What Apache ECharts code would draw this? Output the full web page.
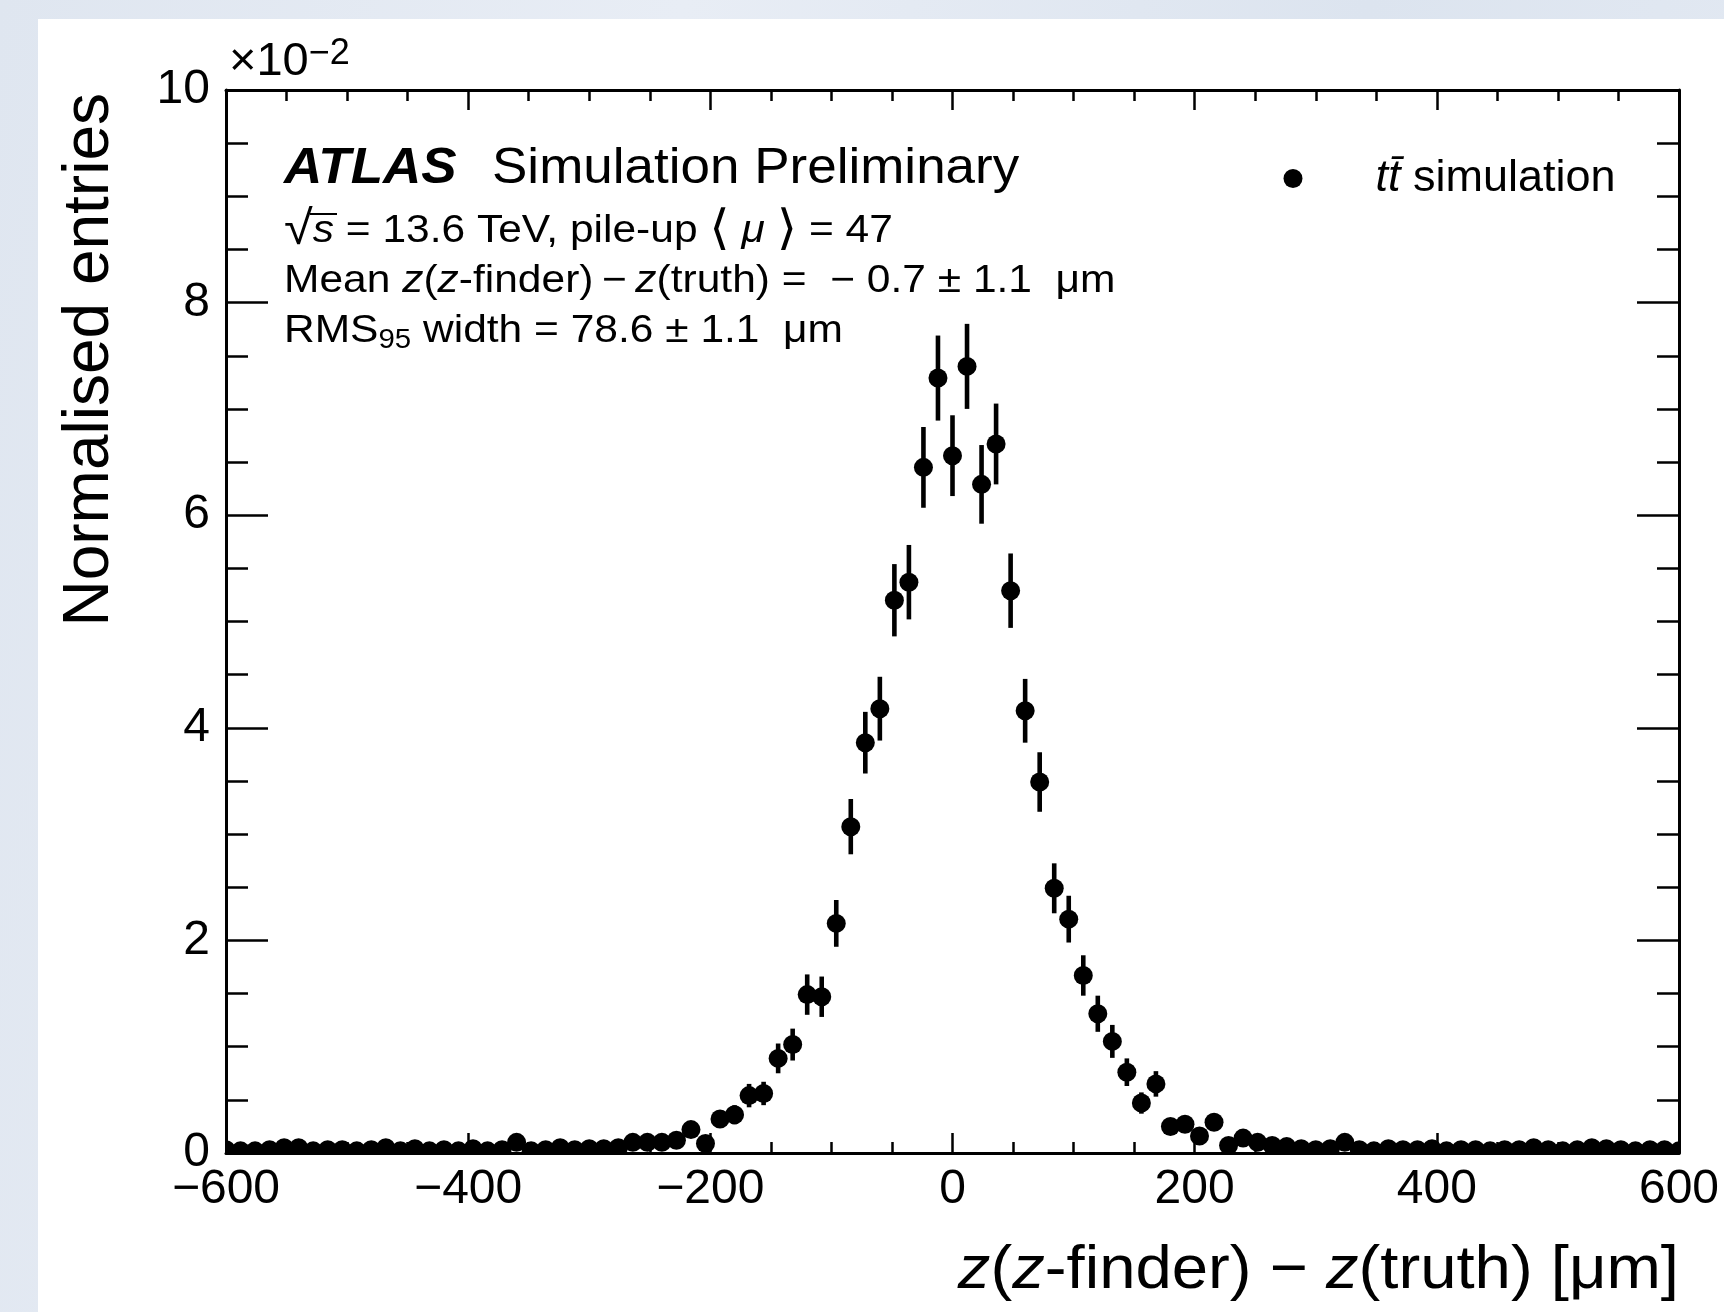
<!DOCTYPE html>
<html>
<head>
<meta charset="utf-8">
<script src="https://cdn.jsdelivr.net/npm/echarts@6/dist/echarts.min.js"></script>
<style>
  html, body { margin: 0; padding: 0; }
  body {
    width: 1724px; height: 1312px; position: relative; overflow: hidden;
    background: linear-gradient(100deg, #dfe6f0 0%, #e8edf5 35%, #dce4ef 70%, #e4eaf3 100%);
  }
  #panel { position: absolute; left: 38px; top: 19px; width: 1686px; height: 1293px; background: #fff; }
  #chart { position: absolute; left: 0; top: 0; width: 1724px; height: 1312px; }
</style>
</head>
<body>
<div id="panel"></div>
<div id="chart"></div>
<script>
// bin centres [um]
const binCenters = [
  -600, -588, -576, -564, -552, -540, -528, -516, -504, -492,
  -480, -468, -456, -444, -432, -420, -408, -396, -384, -372,
  -360, -348, -336, -324, -312, -300, -288, -276, -264, -252,
  -240, -228, -216, -204, -192, -180, -168, -156, -144, -132,
  -120, -108, -96, -84, -72, -60, -48, -36, -24, -12,
  0, 12, 24, 36, 48, 60, 72, 84, 96, 108,
  120, 132, 144, 156, 168, 180, 192, 204, 216, 228,
  240, 252, 264, 276, 288, 300, 312, 324, 336, 348,
  360, 372, 384, 396, 408, 420, 432, 444, 456, 468,
  480, 492, 504, 516, 528, 540, 552, 564, 576, 588, 600
];

// normalised entries, in units of 1e-2
const entries = [
  0.03, 0.02, 0.02, 0.03, 0.05, 0.05, 0.02, 0.03, 0.03, 0.02,
  0.03, 0.05, 0.02, 0.04, 0.02, 0.03, 0.02, 0.04, 0.02, 0.03,
  0.10, 0.02, 0.03, 0.05, 0.03, 0.04, 0.04, 0.05, 0.10, 0.10,
  0.10, 0.12, 0.22, 0.09, 0.32, 0.36, 0.54, 0.56, 0.89, 1.02,
  1.49, 1.47, 2.16, 3.07, 3.86, 4.18, 5.20, 5.37, 6.45, 7.29,
  6.56, 7.40, 6.29, 6.67, 5.29, 4.16, 3.49, 2.49, 2.20, 1.67,
  1.31, 1.05, 0.76, 0.47, 0.65, 0.25, 0.27, 0.16, 0.29, 0.07,
  0.14, 0.10, 0.07, 0.06, 0.04, 0.03, 0.04, 0.10, 0.03, 0.02,
  0.04, 0.03, 0.03, 0.04, 0.02, 0.03, 0.03, 0.02, 0.03, 0.03,
  0.05, 0.03, 0.02, 0.03, 0.05, 0.04, 0.03, 0.02, 0.03, 0.03, 0.02
];

// statistical uncertainty, same units
const errors = [
  0.02, 0.02, 0.02, 0.02, 0.03, 0.03, 0.02, 0.02, 0.02, 0.02,
  0.02, 0.03, 0.02, 0.03, 0.02, 0.02, 0.02, 0.03, 0.02, 0.02,
  0.05, 0.02, 0.02, 0.03, 0.02, 0.03, 0.03, 0.03, 0.05, 0.05,
  0.05, 0.05, 0.07, 0.04, 0.08, 0.09, 0.11, 0.11, 0.14, 0.15,
  0.19, 0.19, 0.22, 0.26, 0.29, 0.30, 0.34, 0.35, 0.38, 0.40,
  0.38, 0.40, 0.37, 0.38, 0.35, 0.30, 0.28, 0.235, 0.22, 0.19,
  0.17, 0.155, 0.13, 0.10, 0.12, 0.07, 0.08, 0.06, 0.08, 0.04,
  0.05, 0.05, 0.04, 0.04, 0.03, 0.02, 0.03, 0.05, 0.02, 0.02,
  0.03, 0.02, 0.02, 0.03, 0.02, 0.02, 0.02, 0.02, 0.02, 0.02,
  0.03, 0.02, 0.02, 0.02, 0.03, 0.03, 0.02, 0.02, 0.02, 0.02, 0.02
];

const seriesName = 'tt\u0304 simulation';
const FONT = "'Liberation Sans', Arial, Helvetica, 'DejaVu Sans', sans-serif";

const minus = (v) => (v < 0 ? '\u2212' + Math.abs(v) : String(v));

const axisCommon = {
  type: 'value',
  splitLine: { show: false },
  axisLine: { show: true, onZero: false, lineStyle: { color: '#000', width: 3 } },
};

const chart = echarts.init(document.getElementById('chart'), null, { renderer: 'canvas' });

chart.setOption({
  animation: false,
  backgroundColor: 'transparent',
  grid: { left: 226, right: 45, top: 90, bottom: 159 },
  xAxis: [
    {
      ...axisCommon,
      position: 'bottom',
      min: -600, max: 600, interval: 200,
      axisTick: { inside: true, length: 20, lineStyle: { color: '#000', width: 2.5 } },
      minorTick: { show: true, splitNumber: 4, length: 11, lineStyle: { color: '#000', width: 2.5 } },
      axisLabel: {
        color: '#000', fontSize: 48, fontFamily: FONT, margin: 13,
        showMinLabel: true, showMaxLabel: true,
        formatter: minus,
      },
    },
    {
      ...axisCommon,
      position: 'top',
      min: -600, max: 600, interval: 200,
      axisTick: { inside: true, length: 20, lineStyle: { color: '#000', width: 2.5 } },
      minorTick: { show: true, splitNumber: 4, length: 11, lineStyle: { color: '#000', width: 2.5 } },
      axisLabel: { show: false },
    },
  ],
  yAxis: [
    {
      ...axisCommon,
      position: 'left',
      min: 0, max: 10, interval: 2,
      axisTick: { inside: true, length: 42, lineStyle: { color: '#000', width: 2.5 } },
      minorTick: { show: true, splitNumber: 4, length: 22, lineStyle: { color: '#000', width: 2.5 } },
      axisLabel: {
        color: '#000', fontSize: 48, fontFamily: FONT, margin: 16,
        showMinLabel: true, showMaxLabel: true,
      },
    },
    {
      ...axisCommon,
      position: 'right',
      min: 0, max: 10, interval: 2,
      axisTick: { inside: true, length: 42, lineStyle: { color: '#000', width: 2.5 } },
      minorTick: { show: true, splitNumber: 4, length: 22, lineStyle: { color: '#000', width: 2.5 } },
      axisLabel: { show: false },
    },
  ],
  legend: {
    left: 1283.5,
    top: 156,
    padding: 0,
    selectedMode: false,
    icon: 'circle',
    itemWidth: 19,
    itemHeight: 19,
    data: [seriesName],
    formatter: () => '{i|tt\u0304}{n| simulation}',
    textStyle: {
      color: '#000',
      fontFamily: FONT,
      fontSize: 45,
      rich: {
        i: { fontStyle: 'italic', fontSize: 45, fontFamily: FONT, color: '#000', padding: [0, 0, 0, 68] },
        n: { fontSize: 45, fontFamily: FONT, color: '#000' },
      },
    },
  },
  series: [
    {
      name: seriesName,
      type: 'custom',
      clip: true,
      itemStyle: { color: '#000' },
      data: binCenters.map((x, i) => [x, entries[i], errors[i]]),
      renderItem: (params, api) => {
        const x = api.value(0);
        const y = api.value(1);
        const e = api.value(2);
        const c = api.coord([x, y]);
        const hi = api.coord([x, y + e]);
        const lo = api.coord([x, y - e]);
        return {
          type: 'group',
          children: [
            { type: 'rect', shape: { x: c[0] - 2.3, y: hi[1], width: 4.6, height: lo[1] - hi[1] }, style: { fill: '#000' } },
            { type: 'circle', shape: { cx: c[0], cy: c[1], r: 9.5 }, style: { fill: '#000' } },
          ],
        };
      },
    },
  ],
  graphic: [
    // x10^-2 multiplier
    {
      type: 'text', x: 229, y: 62,
      style: {
        text: '{a|\u00d710}{b|\u22122}',
        verticalAlign: 'middle',
        rich: {
          a: { fontSize: 47, lineHeight: 52, fontFamily: FONT, fill: '#000' },
          b: { fontSize: 36, lineHeight: 22, verticalAlign: 'top', fontFamily: FONT, fill: '#000' },
        },
      },
    },
    // axis titles
    {
      type: 'text', x: 90, y: 93, rotation: Math.PI / 2,
      style: { text: 'Normalised entries', fontSize: 64, fontFamily: FONT, fill: '#000', align: 'right', verticalAlign: 'middle' },
    },
    {
      type: 'text', x: 1679, y: 1271, scaleX: 1.07,
      style: {
        text: '{i|z}{n|(}{i|z}{n|-finder) \u2212 }{i|z}{n|(truth) [\u03bcm]}',
        align: 'right', verticalAlign: 'middle',
        rich: {
          i: { fontSize: 61, lineHeight: 70, fontStyle: 'italic', fontFamily: FONT, fill: '#000' },
          n: { fontSize: 61, lineHeight: 70, fontFamily: FONT, fill: '#000' },
        },
      },
    },
    // ATLAS label
    {
      type: 'text', x: 284, y: 169, scaleX: 1.06,
      style: { text: 'ATLAS', fontSize: 50, fontWeight: 'bold', fontStyle: 'italic', fontFamily: FONT, fill: '#000', verticalAlign: 'middle' },
    },
    {
      type: 'text', x: 492, y: 169, scaleX: 1.06,
      style: { text: 'Simulation Preliminary', fontSize: 50, fontFamily: FONT, fill: '#000', verticalAlign: 'middle' },
    },
    {
      type: 'text', x: 284, y: 231, scaleX: 1.09,
      style: {
        text: '{r|\u221a}{i|s}{n| = 13.6 TeV, pile-up }{b|\u27e8}{i| \u03bc }{b|\u27e9}{n| = 47}',
        verticalAlign: 'middle',
        rich: {
          r: { fontSize: 48, lineHeight: 46, fontFamily: FONT, fill: '#000' },
          b: { fontSize: 48, lineHeight: 46, fontFamily: FONT, fill: '#000' },
          i: { fontSize: 39, lineHeight: 46, fontStyle: 'italic', fontFamily: FONT, fill: '#000' },
          n: { fontSize: 39, lineHeight: 46, fontFamily: FONT, fill: '#000' },
        },
      },
    },
    {
      type: 'line', shape: { x1: 310, y1: 214, x2: 337, y2: 214 },
      style: { stroke: '#000', lineWidth: 2 },
    },
    {
      type: 'text', x: 284, y: 281, scaleX: 1.09,
      style: {
        text: '{n|Mean }{i|z}{n|(}{i|z}{n|-finder)\u2009\u2212\u2009}{i|z}{n|(truth) =  \u2212 0.7 \u00b1 1.1  \u03bcm}',
        verticalAlign: 'middle',
        rich: {
          i: { fontSize: 39, lineHeight: 46, fontStyle: 'italic', fontFamily: FONT, fill: '#000' },
          n: { fontSize: 39, lineHeight: 46, fontFamily: FONT, fill: '#000' },
        },
      },
    },
    {
      type: 'text', x: 284, y: 331, scaleX: 1.09,
      style: {
        text: '{n|RMS}{s|95}{n| width = 78.6 \u00b1 1.1  \u03bcm}',
        verticalAlign: 'middle',
        rich: {
          n: { fontSize: 39, lineHeight: 46, fontFamily: FONT, fill: '#000' },
          s: { fontSize: 27, lineHeight: 22, verticalAlign: 'bottom', fontFamily: FONT, fill: '#000' },
        },
      },
    },
  ],
});
</script>
</body>
</html>
